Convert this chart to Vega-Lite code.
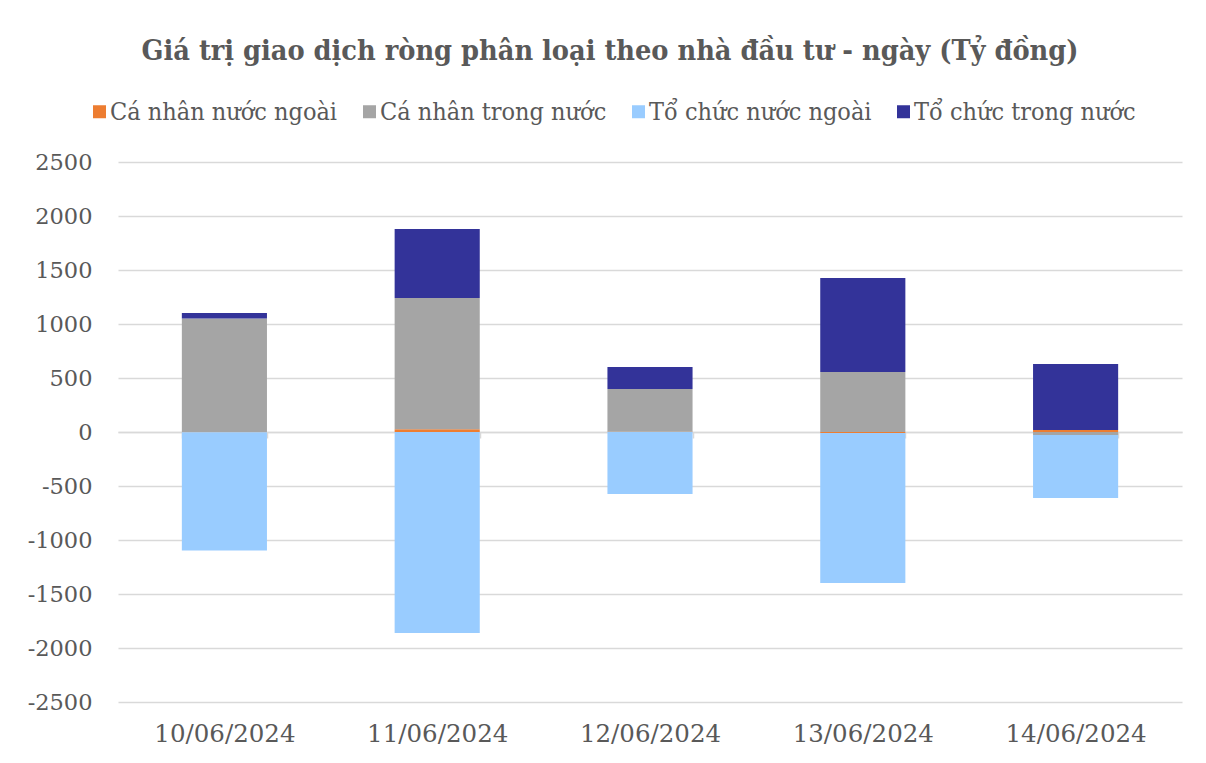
{
  "$schema": "https://vega.github.io/schema/vega-lite/v6.json",
  "autosize": "none",
  "width": 1064,
  "height": 540,
  "padding": {"left": 118, "top": 162, "right": 24, "bottom": 61},
  "background": "#ffffff",
  "title": {
    "text": "Giá trị giao dịch ròng phân loại theo nhà đầu tư - ngày (Tỷ đồng)",
    "font": "DejaVu Serif Condensed",
    "fontWeight": "bold",
    "fontSize": 28.6,
    "color": "#595959",
    "anchor": "middle",
    "dx": -40,
    "offset": 33
  },
  "data": {
    "values": [
      {"ngay": "10/06/2024", "loai": "Cá nhân nước ngoài", "thu_tu": 1, "gia_tri": -3},
      {"ngay": "10/06/2024", "loai": "Cá nhân trong nước", "thu_tu": 2, "gia_tri": 1050},
      {"ngay": "10/06/2024", "loai": "Tổ chức nước ngoài", "thu_tu": 3, "gia_tri": -1095},
      {"ngay": "10/06/2024", "loai": "Tổ chức trong nước", "thu_tu": 4, "gia_tri": 52},
      {"ngay": "11/06/2024", "loai": "Cá nhân nước ngoài", "thu_tu": 1, "gia_tri": 25},
      {"ngay": "11/06/2024", "loai": "Cá nhân trong nước", "thu_tu": 2, "gia_tri": 1215},
      {"ngay": "11/06/2024", "loai": "Tổ chức nước ngoài", "thu_tu": 3, "gia_tri": -1862},
      {"ngay": "11/06/2024", "loai": "Tổ chức trong nước", "thu_tu": 4, "gia_tri": 640},
      {"ngay": "12/06/2024", "loai": "Cá nhân nước ngoài", "thu_tu": 1, "gia_tri": 3},
      {"ngay": "12/06/2024", "loai": "Cá nhân trong nước", "thu_tu": 2, "gia_tri": 395},
      {"ngay": "12/06/2024", "loai": "Tổ chức nước ngoài", "thu_tu": 3, "gia_tri": -575},
      {"ngay": "12/06/2024", "loai": "Tổ chức trong nước", "thu_tu": 4, "gia_tri": 204},
      {"ngay": "13/06/2024", "loai": "Cá nhân nước ngoài", "thu_tu": 1, "gia_tri": -10},
      {"ngay": "13/06/2024", "loai": "Cá nhân trong nước", "thu_tu": 2, "gia_tri": 556},
      {"ngay": "13/06/2024", "loai": "Tổ chức nước ngoài", "thu_tu": 3, "gia_tri": -1388},
      {"ngay": "13/06/2024", "loai": "Tổ chức trong nước", "thu_tu": 4, "gia_tri": 870},
      {"ngay": "14/06/2024", "loai": "Cá nhân nước ngoài", "thu_tu": 1, "gia_tri": 18},
      {"ngay": "14/06/2024", "loai": "Cá nhân trong nước", "thu_tu": 2, "gia_tri": -28},
      {"ngay": "14/06/2024", "loai": "Tổ chức nước ngoài", "thu_tu": 3, "gia_tri": -583},
      {"ngay": "14/06/2024", "loai": "Tổ chức trong nước", "thu_tu": 4, "gia_tri": 612}
    ]
  },
  "mark": {"type": "bar"},
  "encoding": {
    "x": {
      "field": "ngay",
      "type": "nominal",
      "sort": null,
      "title": null,
      "scale": {"paddingInner": 0.6, "paddingOuter": 0.3},
      "axis": {
        "offset": -270,
        "tickBand": "extent",
        "domainColor": "#d9d9d9",
        "domainWidth": 1.5,
        "tickColor": "#d9d9d9",
        "tickWidth": 1.5,
        "tickSize": 6,
        "labelAngle": 0,
        "labelFont": "DejaVu Serif",
        "labelFontSize": 24.5,
        "labelColor": "#595959",
        "labelPadding": 284,
        "grid": false
      }
    },
    "y": {
      "field": "gia_tri",
      "type": "quantitative",
      "stack": "zero",
      "title": null,
      "scale": {"domain": [-2500, 2500], "nice": false},
      "axis": {
        "values": [-2500, -2000, -1500, -1000, -500, 0, 500, 1000, 1500, 2000, 2500],
        "labelExpr": "datum.value + ''",
        "domain": false,
        "ticks": false,
        "grid": true,
        "gridColor": "#d9d9d9",
        "gridWidth": 1.5,
        "labelFont": "DejaVu Serif",
        "labelFontSize": 22.5,
        "labelColor": "#595959",
        "labelPadding": 26
      }
    },
    "color": {
      "field": "loai",
      "type": "nominal",
      "scale": {
        "domain": ["Cá nhân nước ngoài", "Cá nhân trong nước", "Tổ chức nước ngoài", "Tổ chức trong nước"],
        "range": ["#ed7d31", "#a5a5a5", "#99ccff", "#333399"]
      },
      "legend": {
        "title": null,
        "orient": "none",
        "direction": "horizontal",
        "legendX": -31,
        "legendY": -63,
        "symbolType": "square",
        "symbolSize": 169,
        "symbolStrokeWidth": 0,
        "labelFont": "DejaVu Serif Condensed",
        "labelFontSize": 25,
        "labelColor": "#595959",
        "labelOffset": -2,
        "columnPadding": 19,
        "labelLimit": 400
      }
    },
    "order": {"field": "thu_tu", "type": "quantitative"}
  },
  "config": {
    "view": {"stroke": null}
  }
}
